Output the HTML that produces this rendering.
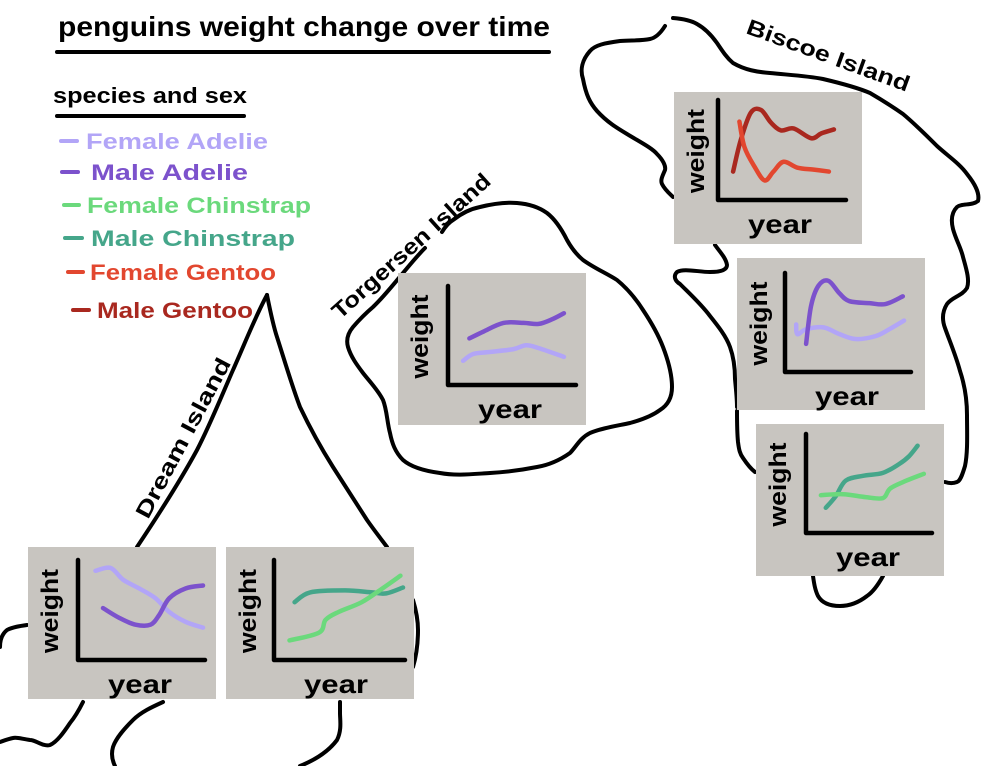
<!DOCTYPE html>
<html><head><meta charset="utf-8"><style>
html,body{margin:0;padding:0;background:#fff;}
svg{display:block;}
text{font-family:"Liberation Sans",sans-serif;font-weight:bold;}
</style></head><body>
<svg id="s" width="998" height="766" viewBox="0 0 998 766" xmlns="http://www.w3.org/2000/svg">
<g fill="none" stroke="#000" stroke-width="4" stroke-linecap="round" stroke-linejoin="round">
<path d="M665,26 C660,34 655,38 650,39 C640,41 630,40 620,41 C605,43 595,45 590,51 C582,60 580,70 583,79 C586,95 590,103 597,111 C607,122 617,128 627,134 C640,142 652,148 657,154 C663,160 666,166 665,170 C663,175 660,180 662,184 C665,190 670,194 673,197"/>
<path d="M673,18 C685,19 692,21 697,24 C706,29 712,36 717,43 C723,52 727,58 733,63 C745,70 757,72 770,73 C790,75 808,76 823,79 C840,83 856,87 870,93 C882,100 893,107 903,114 C915,124 926,135 937,146 C948,156 960,164 967,174 C975,184 980,193 978,201 C972,206 962,203 957,207 C951,213 951,221 953,229 C956,240 961,248 963,257 C966,268 970,280 967,288 C962,296 952,297 947,304 C942,312 942,320 945,328 C950,342 956,356 960,371 C965,386 967,400 967,415 C967,432 968,452 965,466 C962,476 960,481 957,482 C952,484 948,483 945,482"/>
<path d="M883,576 C878,585 873,592 867,596 C858,603 849,606 840,606 C830,606 822,603 818,596 C815,590 814,583 813,576"/>
<path d="M715,245 C720,252 726,258 727,265 C727,271 718,272 710,272 C698,272 684,268 677,272 C673,276 675,281 680,284 C690,294 701,304 710,316 C718,326 726,336 730,347 C734,358 735,368 735,379 C736,390 737,398 737,407"/>
<path d="M737,411 C737,422 737,432 738,442 C739,450 740,454 743,458 C747,464 751,469 755,472"/>
<path d="M442,232 C445,227 448,223 453,220 C462,213 470,209 480,207 C492,204 505,202 517,203 C530,204 540,208 547,213 C556,220 562,230 567,240 C572,249 577,255 583,260 C594,268 606,273 617,280 C628,289 636,299 643,310 C651,322 658,334 663,347 C668,360 672,374 672,387 C672,397 668,405 660,410 C652,416 641,420 630,423 C616,426 602,428 590,433 C580,438 576,447 570,453 C560,460 549,465 537,467 C522,470 506,472 490,473 C473,474 456,476 440,473 C425,471 411,467 403,460 C395,452 392,443 390,433 C387,422 387,410 383,400 C378,390 370,382 363,373 C357,365 351,357 348,347 C346,340 348,333 353,327 C359,320 366,313 373,307 C390,291 408,265 425,248"/>
<path d="M137,547 C155,520 178,485 197,450 C210,425 222,395 233,370 C245,343 256,315 267,295"/>
<path d="M267,295 C270,310 273,325 277,337 C285,362 292,386 300,407 C310,428 321,448 333,467 C345,486 356,503 367,520 C374,530 381,539 387,547"/>
<path d="M413,600 C416,610 418,620 418,630 C418,645 416,657 413,667"/>
<path d="M83,702 C79,710 75,717 70,723 C64,732 57,742 50,745 C43,747 36,740 30,740 C22,739 17,737 13,738 C8,739 3,741 0,742"/>
<path d="M27,625 C20,626 13,627 7,630 C2,634 0,640 0,647"/>
<path d="M163,702 C152,707 141,712 133,720 C124,729 116,738 113,747 C111,754 112,760 115,766"/>
<path d="M300,766 C315,760 328,752 337,740 C342,730 340,720 340,713 C340,708 340,705 340,702"/>
</g>
<g>
<text x="58" y="36" font-size="28" textLength="492" lengthAdjust="spacingAndGlyphs">penguins weight change over time</text>
<line x1="57" y1="52" x2="549" y2="52" stroke="#000" stroke-width="4" stroke-linecap="round"/>
<text x="53" y="103" font-size="22" textLength="194" lengthAdjust="spacingAndGlyphs">species and sex</text>
<line x1="57" y1="116" x2="244" y2="116" stroke="#000" stroke-width="4" stroke-linecap="round"/>
</g>
<g id="legend"></g>
<g id="labels">
<text font-size="22" textLength="172" lengthAdjust="spacingAndGlyphs" transform="translate(745,33) rotate(20)">Biscoe Island</text>
<text font-size="22" textLength="205" lengthAdjust="spacingAndGlyphs" transform="translate(340,320) rotate(-42)">Torgersen Island</text>
<text font-size="22" textLength="178" lengthAdjust="spacingAndGlyphs" transform="translate(148,520) rotate(-62)">Dream Island</text>
</g>
<g id="panels"></g>
</svg>
<script>
// Legend data
const legendLabels = ["Female Adelie","Male Adelie","Female Chinstrap","Male Chinstrap","Female Gentoo","Male Gentoo"];
const legendColors = ["#b2a5f7","#7c52cc","#6bd97c","#45a68a","#e2472f","#a9281f"];

// Panel series data: years (0-10) and weight (0-100)
const biscoe1MaleGentooYears = [1.2,1.8,2.6,3.4,4.2,5,6,7.4,8.2,9.2];
const biscoe1MaleGentooWeight = [29,61,89,92,79,71,73,63,68,72];
const biscoe1FemaleGentooYears = [1.7,2.1,2.9,3.7,4.4,5.2,6.3,7.6,8.8];
const biscoe1FemaleGentooWeight = [80,54,34,20,29,39,33,31,29];

const biscoe2MaleAdelieYears = [1.7,2.1,2.7,3.5,4.4,5.2,6.8,8.1,9.5];
const biscoe2MaleAdelieWeight = [29,68,89,94,81,73,71,70,78];
const biscoe2FemaleAdelieYears = [0.9,1.0,1.7,3.1,4.4,5.7,7.3,8.4,9.6];
const biscoe2FemaleAdelieWeight = [49,39,44,46,39,34,37,44,53];

const biscoe3MaleChinYears = [1.6,2.4,3.2,4.6,6.2,7.5,8.3,9];
const biscoe3MaleChinWeight = [26,38,54,59,62,71,79,90];
const biscoe3FemaleChinYears = [1.2,3,4.8,6.2,6.8,8.1,9.5];
const biscoe3FemaleChinWeight = [39,40,37,36,46,54,61];

const torgMaleAdelieYears = [1.7,2.8,4.4,6,7.2,8.3,9.2];
const torgMaleAdelieWeight = [48,55,64,64,63,68,74];
const torgFemaleAdelieYears = [1.2,2,3.3,5.2,6.2,7.2,9.2];
const torgFemaleAdelieWeight = [25,32,34,37,41,38,29];

const dream1FemaleAdelieYears = [1.4,2.6,3.6,4.9,6.2,7.3,8.6,10];
const dream1FemaleAdelieWeight = [91,94,82,73,63,49,39,33];
const dream1MaleAdelieYears = [2,3.3,4.6,5.8,6.5,7.3,8.6,10];
const dream1MaleAdelieWeight = [53,43,36,36,46,63,73,76];

const dream2MaleChinYears = [1.6,2.8,5.5,7.6,8.7,10];
const dream2MaleChinWeight = [59,69,71,69,68,74];
const dream2FemaleChinYears = [1.2,3.5,4,5,6.8,8.4,9.8];
const dream2FemaleChinWeight = [20,28,41,49,59,73,86];

const NS = "http://www.w3.org/2000/svg";
const svg = document.getElementById('s');

function el(tag, attrs, parent){
  const e = document.createElementNS(NS, tag);
  for (const k in attrs) e.setAttribute(k, attrs[k]);
  parent.appendChild(e);
  return e;
}

// legend
const lg = document.getElementById('legend');
const legendGeom = [[61,77,86,182,141],[62,78,91,157,172],[64,79,87,224,205],[65,82,91,204,238],[68,83,90,186,272],[73,89,97,156,310]];
legendLabels.forEach((lab,i)=>{
  const g = el('g',{},lg);
  
  
  const gm = legendGeom[i];
  const ln = el('line',{x1:gm[0],y1:gm[4],x2:gm[1],y2:gm[4],stroke:legendColors[i],'stroke-width':4,'stroke-linecap':'round'},g);
  
  
  const t = el('text',{x:gm[2],y:gm[4]+8,'font-size':22,fill:legendColors[i],textLength:gm[3],lengthAdjust:'spacingAndGlyphs'},g);
  
  
  t.textContent = lab;
});

function smoothPath(pts){
  let d = 'M'+pts[0][0].toFixed(1)+','+pts[0][1].toFixed(1);
  for (let i=0;i<pts.length-1;i++){
    const p0 = pts[i-1]||pts[i], p1=pts[i], p2=pts[i+1], p3=pts[i+2]||p2;
    const c1=[p1[0]+(p2[0]-p0[0])/6, p1[1]+(p2[1]-p0[1])/6];
    const c2=[p2[0]-(p3[0]-p1[0])/6, p2[1]-(p3[1]-p1[1])/6];
    d += ' C'+c1.join(',')+' '+c2.join(',')+' '+p2.join(',');
  }
  return d;
}

const panelsG = document.getElementById('panels');
function drawPanel(name, px, py, ox, oy, w, h, series){
  const g = el('g',{},panelsG);
  
  
  const bg = el('rect',{x:px,y:py,width:188,height:152,fill:'#c8c5c0'},g);
  
  
  const xScale = yr => ox + yr/10*w;
  const yScale = wt => oy - wt/100*h;
  series.forEach(s=>{
    const pts = s.years.map((yr,i)=>[xScale(yr), yScale(s.weight[i])]);
    const p = el('path',{d:smoothPath(pts),fill:'none',stroke:s.color,'stroke-width':4.5,'stroke-linecap':'round','stroke-linejoin':'round'},g);
    
    
  });
  const ax = el('path',{d:'M'+ox+','+(oy-h-2)+' L'+ox+','+oy+' L'+(ox+w+2)+','+oy,fill:'none',stroke:'#000','stroke-width':4.5,'stroke-linecap':'round','stroke-linejoin':'round'},g);
  
  
  const wl = el('text',{'font-size':24,'text-anchor':'middle',transform:'translate('+(px+30)+','+(oy-h/2)+') rotate(-90)',textLength:84,lengthAdjust:'spacingAndGlyphs'},g);
  
  
  wl.textContent='weight';
  const yl = el('text',{x:ox+62,y:oy+33,'font-size':26,'text-anchor':'middle',textLength:64,lengthAdjust:'spacingAndGlyphs'},g);
  
  
  yl.textContent='year';
}

drawPanel('biscoe-gentoo-panel',674,92,718,200,126,98,[
  {name:'male-gentoo-line',color:legendColors[5],years:biscoe1MaleGentooYears,weight:biscoe1MaleGentooWeight},
  {name:'female-gentoo-line',color:legendColors[4],years:biscoe1FemaleGentooYears,weight:biscoe1FemaleGentooWeight}]);
drawPanel('biscoe-adelie-panel',737,258,785,372,124,97,[
  {name:'female-adelie-line',color:legendColors[0],years:biscoe2FemaleAdelieYears,weight:biscoe2FemaleAdelieWeight},
  {name:'male-adelie-line',color:legendColors[1],years:biscoe2MaleAdelieYears,weight:biscoe2MaleAdelieWeight}]);
drawPanel('biscoe-chinstrap-panel',756,424,806,533,124,97,[
  {name:'male-chinstrap-line',color:legendColors[3],years:biscoe3MaleChinYears,weight:biscoe3MaleChinWeight},
  {name:'female-chinstrap-line',color:legendColors[2],years:biscoe3FemaleChinYears,weight:biscoe3FemaleChinWeight}]);
drawPanel('torgersen-adelie-panel',398,273,448,385,126,97,[
  {name:'male-adelie-line',color:legendColors[1],years:torgMaleAdelieYears,weight:torgMaleAdelieWeight},
  {name:'female-adelie-line',color:legendColors[0],years:torgFemaleAdelieYears,weight:torgFemaleAdelieWeight}]);
drawPanel('dream-adelie-panel',28,547,78,660,125,98,[
  {name:'female-adelie-line',color:legendColors[0],years:dream1FemaleAdelieYears,weight:dream1FemaleAdelieWeight},
  {name:'male-adelie-line',color:legendColors[1],years:dream1MaleAdelieYears,weight:dream1MaleAdelieWeight}]);
drawPanel('dream-chinstrap-panel',226,547,274,660,129,98,[
  {name:'male-chinstrap-line',color:legendColors[3],years:dream2MaleChinYears,weight:dream2MaleChinWeight},
  {name:'female-chinstrap-line',color:legendColors[2],years:dream2FemaleChinYears,weight:dream2FemaleChinWeight}]);
</script>
</body></html>
